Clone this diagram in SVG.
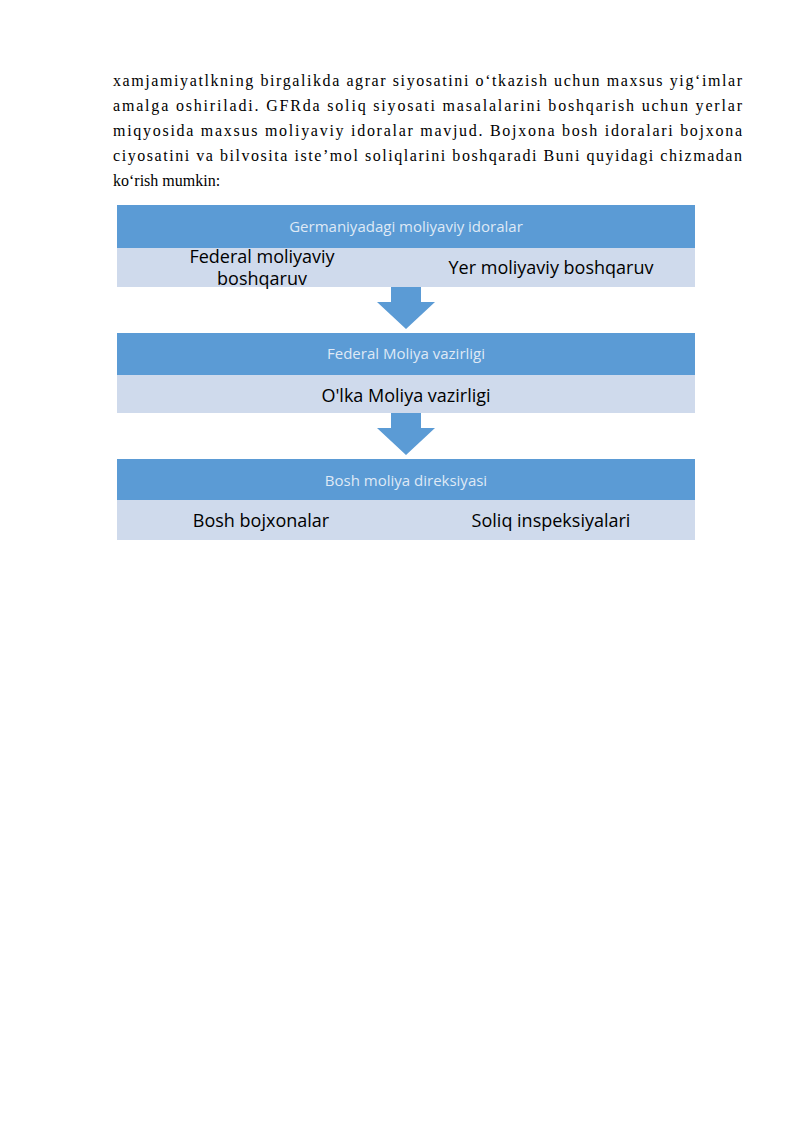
<svg xmlns="http://www.w3.org/2000/svg" width="800" height="1131" viewBox="0 0 800 1131">
<style>
.p{font-family:"Liberation Serif",serif;font-size:16px;fill:#000}
.h{font-family:"Open Sans","Noto Sans",sans-serif;font-size:15px;fill:#dfe9f5;text-anchor:middle}
.b{font-family:"Open Sans","Noto Sans",sans-serif;font-size:18px;fill:#000;text-anchor:middle}
.dk{fill:#5b9bd5}
.lt{fill:#cfdaec}
</style>
<rect width="800" height="1131" fill="#fff"/>
<g id="text">
<text class="p" x="113" y="86" textLength="629" lengthAdjust="spacing">xamjamiyatlkning birgalikda agrar siyosatini o‘tkazish uchun maxsus yig‘imlar</text>
<text class="p" x="113" y="111" textLength="629" lengthAdjust="spacing">amalga oshiriladi. GFRda soliq siyosati masalalarini boshqarish uchun yerlar</text>
<text class="p" x="113" y="136" textLength="629" lengthAdjust="spacing">miqyosida maxsus moliyaviy idoralar mavjud. Bojxona bosh idoralari bojxona</text>
<text class="p" x="113" y="161" textLength="629" lengthAdjust="spacing">ciyosatini va bilvosita iste’mol soliqlarini boshqaradi Buni quyidagi chizmadan</text>
<text class="p" x="113" y="186">ko‘rish mumkin:</text>
</g>
<g id="node1">
<rect class="dk" x="117" y="205" width="578" height="43"/>
<rect class="lt" x="117" y="248" width="578" height="39"/>
<text class="h" x="406" y="232">Germaniyadagi moliyaviy idoralar</text>
<text class="b" x="262" y="263">Federal moliyaviy</text>
<text class="b" x="262" y="285">boshqaruv</text>
<text class="b" x="551" y="274">Yer moliyaviy boshqaruv</text>
</g>
<g id="node2">
<rect class="dk" x="117" y="333" width="578" height="42"/>
<rect class="lt" x="117" y="375" width="578" height="38"/>
<text class="h" x="406" y="359">Federal Moliya vazirligi</text>
<text class="b" x="406" y="402">O'lka Moliya vazirligi</text>
</g>
<g id="node3">
<rect class="dk" x="117" y="459" width="578" height="41"/>
<rect class="lt" x="117" y="500" width="578" height="40"/>
<text class="h" x="406" y="486">Bosh moliya direksiyasi</text>
<text class="b" x="261" y="527">Bosh bojxonalar</text>
<text class="b" x="551" y="527">Soliq inspeksiyalari</text>
</g>
<g id="connectors">
<polygon class="dk" points="391,287 421,287 421,302 435,302 406,329 377,302 391,302"/>
<polygon class="dk" points="391,413 421,413 421,428 435,428 406,455 377,428 391,428"/>
</g>
</svg>
